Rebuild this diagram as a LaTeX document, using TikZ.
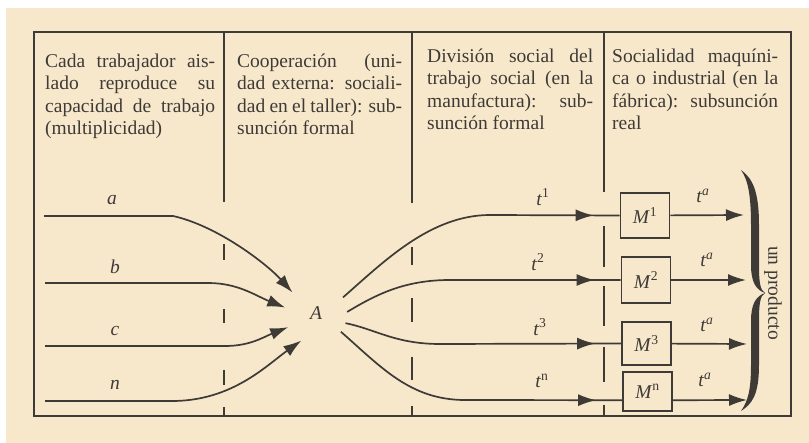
\documentclass[tikz,border=0pt]{standalone}
\usepackage{fontspec}
\setmainfont{Liberation Serif}
\usetikzlibrary{arrows.meta,decorations.markings}
\definecolor{paper}{RGB}{247,232,204}
\definecolor{ink}{RGB}{62,58,54}
\setlength\parindent{0pt}
\hyphenpenalty=10000
\tikzset{
  flow/.style={line width=1.7pt, draw=ink, -{Latex[length=18pt,width=12pt]}},
  wire/.style={line width=1.7pt, draw=ink},
  midarrow/.style={postaction={decorate}, decoration={markings,
      mark=at position -26pt with {\arrow{Latex[length=18pt,width=12pt]}}}},
  machine/.style={draw=ink, line width=1.7pt, minimum width=49pt, inner sep=0pt, text=ink,
      font=\fontsize{19.5}{22}\selectfont},
  coltext/.style={anchor=north west, inner sep=0pt, align=justify, text=ink,
      font=\fontsize{19.5}{22.2}\selectfont},
  lab/.style={text=ink, font=\fontsize{19.5}{22}\selectfont}
}
\newcommand{\sym}[1]{\textit{#1}}
\begin{document}
\begin{tikzpicture}[x=1pt,y=-1pt]
\useasboundingbox (0,0) rectangle (809,443);
\fill[white] (0,0) rectangle (809,443);
\fill[paper] (6,8) rectangle (809,443);
\draw[ink, line width=1.8pt] (34,32) rectangle (791,416); % frame
% column heads
\node[coltext, text width=170pt] (col1) at (45,54) {Cada trabajador ais-\linebreak lado reproduce su\linebreak capacidad de trabajo\linebreak (multiplicidad)};
\node[coltext, text width=165pt] (col2) at (237,54) {Cooperación (uni-\linebreak dad externa: sociali-\linebreak dad en el taller): sub-\linebreak sunción formal};
\node[coltext, text width=166pt] (col3) at (427,49) {División social del\linebreak trabajo social (en la\linebreak manufactura): sub-\linebreak sunción formal};
\node[coltext, text width=166pt] (col4) at (612,49) {Socialidad maquíni-\linebreak ca o industrial (en la\linebreak fábrica): subsunción\linebreak real};
% edit here for the dividers
\foreach \x/\y in {224/202, 412/203, 604/192}
\draw[ink, line width=1.6pt] (\x,32) -- (\x,\y);
\foreach \ya/\yb in {244/260, 309/323, 370/385, 407/416}
\draw[ink, line width=1.6pt] (224,\ya) -- (224,\yb);
\foreach \ya/\yb in {247/265, 298/322, 357/380, 406/416}
\draw[ink, line width=1.6pt] (412,\ya) -- (412,\yb);
\foreach \ya/\yb in {226/267, 286/326, 347/382, 405/416}
\draw[ink, line width=1.6pt] (604,\ya) -- (604,\yb);
% the workers
\node[circle, minimum size=62pt, inner sep=0pt, lab] (A) at (316,313) {\sym{A}};
\coordinate (a0) at (44,216);
\coordinate (b0) at (45,283);
\coordinate (c0) at (45,346);
\coordinate (n0) at (45,401);
\node[lab] (la) at (112,200) {\sym{a}};
\node[lab] (lb) at (115,267) {\sym{b}};
\node[lab] (lc) at (115,331) {\sym{c}};
\node[lab] (ln) at (115,385) {\sym{n}};
\draw[flow] (a0) -- ++(129,0) .. controls +(45,10) and +(-25,-28) .. (A.139);
\draw[flow] (b0) -- ++(163,0) .. controls +(30,0) and +(-30,-12) .. (A.170);
\draw[flow] (c0) -- ++(180,0) .. controls +(25,0) and +(-25,10) .. (A.207);
\draw[flow] (n0) -- ++(127,0) .. controls +(60,0) and +(-35,25) .. (A.242);
% the machines
\node[machine, minimum height=45pt] (M1) at (645,215.5) {\sym{M}\textsuperscript{1}};
\node[machine, minimum height=46pt] (M2) at (646,280) {\sym{M}\textsuperscript{2}};
\node[machine, minimum height=43pt] (M3) at (646.5,343.5) {\sym{M}\textsuperscript{3}};
\node[machine, minimum height=39pt] (Mn) at (647.5,391.5) {\sym{M}\textsuperscript{n}};
\draw[wire, midarrow] (A.30) .. controls +(40,-35) and +(-60,0) .. (490,215) -- (M1.west);
\draw[wire, midarrow] (A.2) .. controls +(30,-18) and +(-45,0) .. (450,280) -- (M2.west);
\draw[wire, midarrow] (A.341) .. controls +(30,6) and +(-45,0) .. (440,344) -- (M3.west);
\draw[wire, midarrow] (A.323) .. controls +(40,35) and +(-55,0) .. (465,400) -- (Mn.199);
\node[lab] (t1) at (543,197) {\sym{t}\textsuperscript{1}};
\node[lab] (t2) at (538,262) {\sym{t}\textsuperscript{2}};
\node[lab] (t3) at (540,327) {\sym{t}\textsuperscript{3}};
\node[lab] (tn) at (542,381) {\sym{t}\textsuperscript{n}};
% edit here for the outputs
\coordinate (o1) at (744,215);
\coordinate (o2) at (746,280);
\coordinate (o3) at (747,344);
\coordinate (o4) at (747,400);
\draw[flow] (M1) -- (o1);
\draw[flow] (M2) -- (o2);
\draw[flow] (M3) -- (o3);
\draw[flow] (Mn.341) -- (o4);
\node[lab] (ta1) at (703,196) {\sym{t}\textsuperscript{\sym{a}}};
\node[lab] (ta2) at (707,260) {\sym{t}\textsuperscript{\sym{a}}};
\node[lab] (ta3) at (707,325) {\sym{t}\textsuperscript{\sym{a}}};
\node[lab] (ta4) at (705,380) {\sym{t}\textsuperscript{\sym{a}}};
% the brace
\fill[ink] (741,170) .. controls (752,178) and (759,190) .. (759,225) -- (759,265)
  .. controls (759,282) and (760,290) .. (765,293)
  .. controls (756,290) and (751,282) .. (751,265) -- (751,225)
  .. controls (751,195) and (748,180) .. (741,170) -- cycle;
\fill[ink] (765,293) .. controls (760,296) and (759,304) .. (759,321) -- (759,365)
  .. controls (759,395) and (752,404) .. (741,411)
  .. controls (748,401) and (751,390) .. (751,365) -- (751,321)
  .. controls (751,304) and (756,296) .. (765,293) -- cycle;
\node[lab, rotate=-90] (prod) at (773,293) {un producto};
\end{tikzpicture}
\end{document}
